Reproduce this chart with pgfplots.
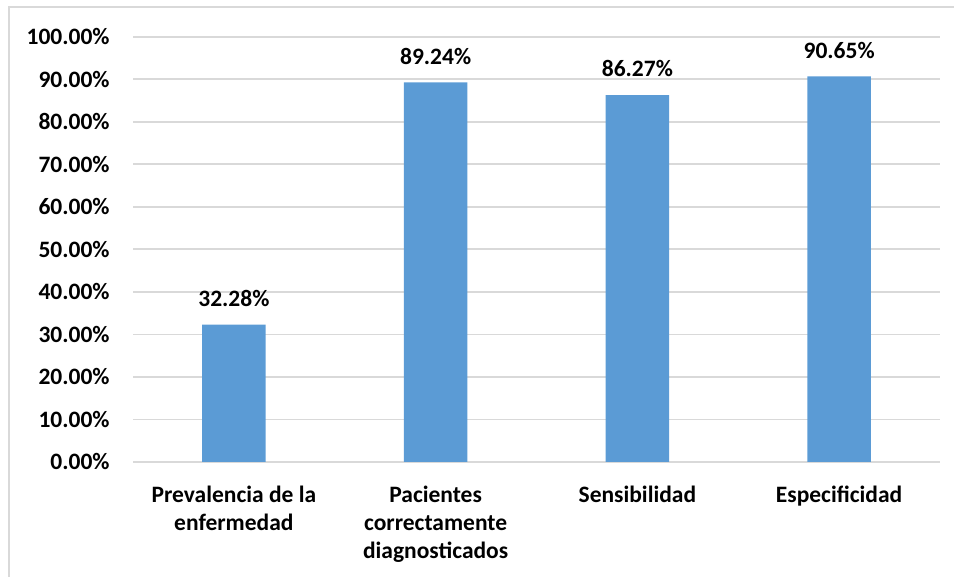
\documentclass[border=0pt]{standalone}
\usepackage{pgfplots}
\pgfplotsset{compat=1.18}
\usepackage{fontspec}
\setmainfont{Carlito}
\definecolor{barblue}{HTML}{5B9BD5}
\definecolor{gridgray}{HTML}{D9D9D9}
\begin{document}
\fontsize{11.75}{14}\selectfont\bfseries
\begin{tikzpicture}
  % canvas and outer frame (1 unit = 0.5pt)
  \path[use as bounding box] (0pt,0pt) rectangle (477pt,288.5pt);
  \draw[gridgray, line width=0.9pt] (4.5pt,0pt) -- (4.5pt,285pt) -- (477pt,285pt);
  \begin{axis}[
    at={(66.5pt,57.5pt)}, anchor=south west,
    scale only axis,
    width=403.5pt, height=212.65pt,
    xmin=-0.5, xmax=3.5,
    ymin=0, ymax=100,
    ytick={0,10,...,100},
    xtick=data,
    xticklabels={{Prevalencia de la\\enfermedad},{Pacientes\\correctamente\\diagnosticados},{Sensibilidad},{Especificidad}},
    axis line style={draw=none},
    major tick length=0pt,
    ymajorgrids,
    grid style={gridgray, line width=0.9pt},
    /pgf/number format/assume math mode=true,
    yticklabel={\pgfmathprintnumber[fixed,fixed zerofill,precision=2]{\tick}\%},
    yticklabel style={xshift=-7.6pt},
    xticklabel style={align=center, yshift=-7.9pt},
    ticklabel style={font=\fontsize{11.75}{14}\selectfont\bfseries},
    ybar, bar width=31.7pt,
    nodes near coords={\pgfmathprintnumber[fixed,fixed zerofill,precision=2]{\pgfplotspointmeta}\%},
    every node near coord/.append style={font=\fontsize{11.75}{14}\selectfont\bfseries, yshift=5pt},
    clip=false,
  ]
    \addplot[fill=barblue, draw=none] coordinates {(0,32.28) (1,89.24) (2,86.27) (3,90.65)};
  \end{axis}
\end{tikzpicture}
\end{document}
